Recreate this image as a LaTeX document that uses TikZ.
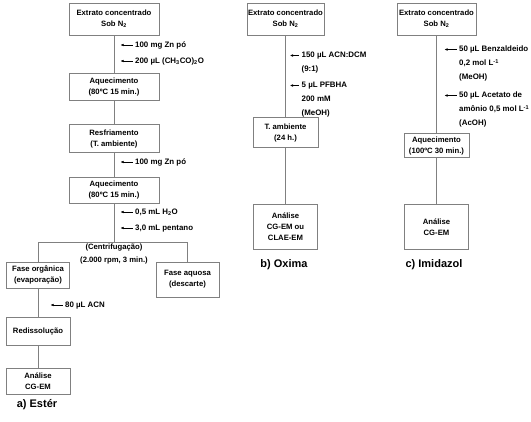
\documentclass[tikz,border=0pt]{standalone}
\usepackage{fontspec}
\setmainfont{Liberation Sans}
\usetikzlibrary{arrows.meta, positioning}
\definecolor{boxgray}{gray}{0.5}

\begin{document}
\begin{tikzpicture}[x=1pt, y=-1pt,
    stepbox/.style={rectangle, draw=boxgray, line width=0.8pt, align=center, inner sep=1pt, font=\bfseries\fontsize{7.7}{11}\selectfont},
    reagent/.style={anchor=north west, align=left, inner sep=1pt, font=\bfseries\fontsize{7.9}{14}\selectfont},
    link/.style={draw=boxgray, line width=0.8pt},
    feed/.style={draw=black, line width=0.5pt, -{Latex[length=3pt, width=2.6pt]}},
    caption/.style={inner sep=0pt, font=\bfseries\fontsize{11}{13}\selectfont}
]
    \useasboundingbox (0,0) rectangle (531,422);

    % Column a: Ester
    \node (ea1) [stepbox, minimum width=90pt, minimum height=32pt] at (114,19) {Extrato concentrado\\Sob N\textsubscript{2}};
    \node (aq1) [stepbox, minimum width=90pt, minimum height=27pt, below=38pt of ea1] {Aquecimento\\(80ºC 15 min.)};
    \node (resf) [stepbox, minimum width=90pt, minimum height=28pt, below=23pt of aq1] {Resfriamento\\(T. ambiente)};
    \node (aq2) [stepbox, minimum width=90pt, minimum height=26pt, below=24pt of resf] {Aquecimento\\(80ºC 15 min.)};
    \coordinate [below=39pt of aq2] (split);
    \node (centr) [stepbox, draw=none, font=\bfseries\fontsize{7.7}{13}\selectfont, below=0pt of split] {(Centrifugação)\\(2.000 rpm, 3 min.)};
    \node (fo) [stepbox, minimum width=63pt, minimum height=26pt] at (38,275) {Fase orgânica\\(evaporação)};
    \node (fa) [stepbox, minimum width=63pt, minimum height=35pt] at (187.5,279.5) {Fase aquosa\\(descarte)};
    \node (redis) [stepbox, minimum width=64pt, minimum height=28pt, below=29pt of fo] {Redissolução};
    \node (ana) [stepbox, minimum width=64pt, minimum height=26pt, below=22pt of redis] {Análise\\CG-EM};
    \node (capa) [caption] at (37,405) {a) Estér};

    % Column a: reagents
    \node (ra1) [reagent] at (134,40.5) {100 mg Zn pó};
    \node (ra2) [reagent] at (134,56.5) {200 µL (CH\textsubscript{3}CO)\textsubscript{2}O};
    \node (ra3) [reagent] at (134,157.5) {100 mg Zn pó};
    \node (ra4) [reagent] at (134,207.5) {0,5 mL H\textsubscript{2}O};
    \node (ra5) [reagent] at (134,223.5) {3,0 mL pentano};
    \node (ra6) [reagent] at (64,300.5) {80 µL ACN};

    % Column b: Oxima
    \node (eb1) [stepbox, minimum width=77pt, minimum height=32pt] at (285.5,19) {Extrato concentrado\\Sob N\textsubscript{2}};
    \node (tamb) [stepbox, minimum width=65pt, minimum height=30pt, below=82pt of eb1] {T. ambiente\\(24 h.)};
    \node (anb) [stepbox, minimum width=64pt, minimum height=45pt, below=56pt of tamb] {Análise\\CG-EM ou\\CLAE-EM};
    \node (capb) [caption] at (284,265) {b) Oxima};

    \node (rb1) [reagent] at (300.5,51) {150 µL ACN:DCM\\(9:1)};
    \node (rb2) [reagent] at (300.5,81) {5 µL PFBHA\\200 mM\\(MeOH)};

    % Column c: Imidazol
    \node (ec1) [stepbox, minimum width=79pt, minimum height=32pt] at (436.5,19) {Extrato concentrado\\Sob N\textsubscript{2}};
    \node (aqc) [stepbox, minimum width=65pt, minimum height=24pt, below=98pt of ec1] {Aquecimento\\(100ºC 30 min.)};
    \node (anc) [stepbox, minimum width=64pt, minimum height=45pt, below=46pt of aqc] {Análise\\CG-EM};
    \node (capc) [caption] at (434,265) {c) Imidazol};

    \node (rc1) [reagent] at (458,45) {50 µL Benzaldeido\\0,2 mol L\textsuperscript{-1}\\(MeOH)};
    \node (rc2) [reagent] at (458,91) {50 µL Acetato de\\amônio 0,5 mol L\textsuperscript{-1}\\(AcOH)};

    % Links
    \draw [link] (ea1) -- (aq1);
    \draw [link] (aq1) -- (resf);
    \draw [link] (resf) -- (aq2);
    \draw [link] (aq2) -- (split);
    \draw [link] (fo.north) |- (split) -| (fa.north);
    \draw [link] (fo) -- (redis);
    \draw [link] (redis) -- (ana);
    \draw [link] (eb1) -- (tamb);
    \draw [link] (tamb) -- (anb);
    \draw [link] (ec1) -- (aqc);
    \draw [link] (aqc) -- (anc);

    % Reagent arrows
    \foreach \r in {ra1,ra2,ra3,ra4,ra5,ra6,rc1,rc2}
        \draw [feed] ([shift={(-1.5pt,-4.5pt)}]\r.north west) -- ++(-12,0);
    \foreach \r in {rb1,rb2}
        \draw [feed] ([shift={(-1.5pt,-4.5pt)}]\r.north west) -- ++(-9,0);
\end{tikzpicture}
\end{document}
